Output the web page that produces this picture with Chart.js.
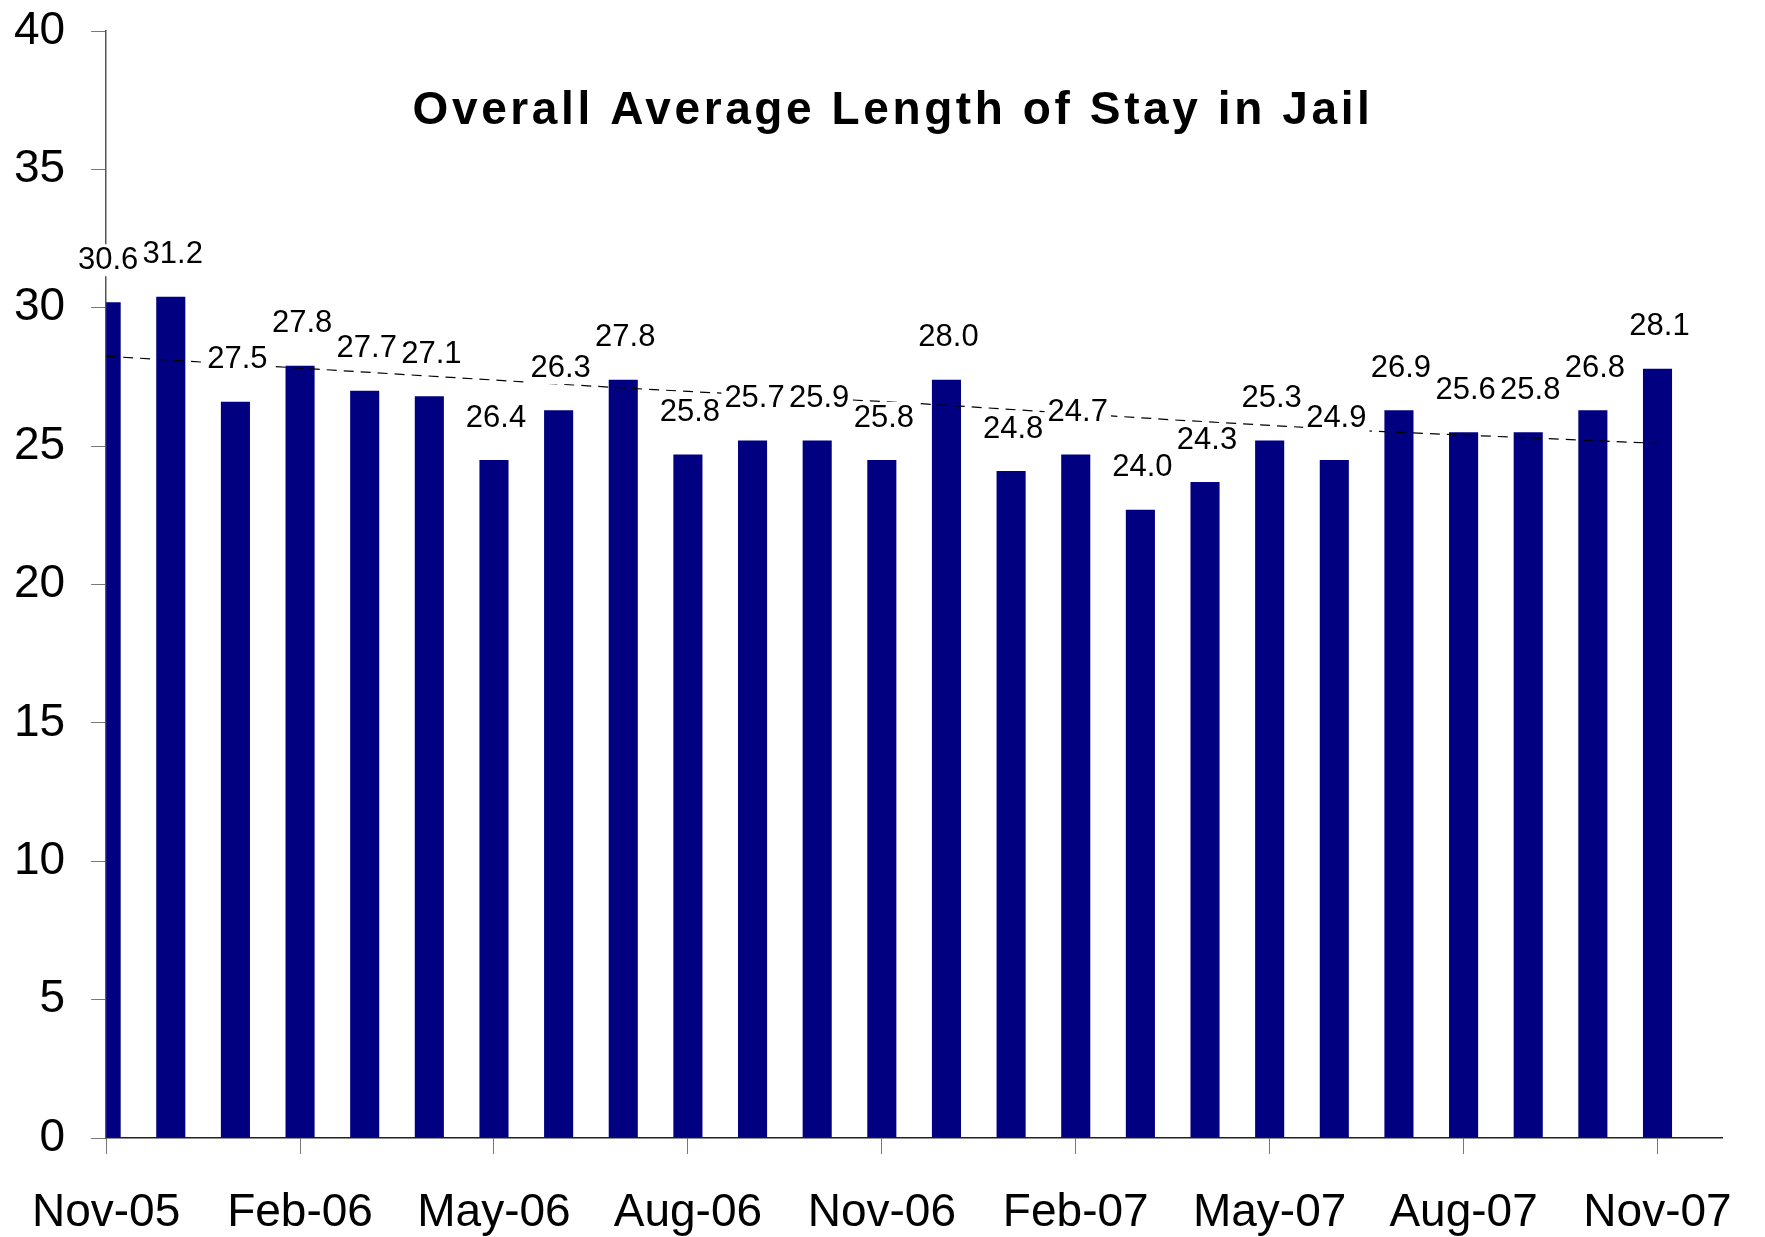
<!DOCTYPE html>
<html>
<head>
<meta charset="utf-8">
<title>Overall Average Length of Stay in Jail</title>
<script src="https://cdn.jsdelivr.net/npm/chart.js@4.4.0/dist/chart.umd.min.js"></script>
<style>
  html, body { margin: 0; padding: 0; background: #fff; }
  #wrap { width: 1765px; height: 1237px; }
</style>
</head>
<body>
<div id="wrap"><canvas id="chart" width="1765" height="1237"></canvas></div>
<script>
const months = [
    'Nov-05', 'Dec-05', 'Jan-06', 'Feb-06', 'Mar-06', 'Apr-06', 'May-06', 'Jun-06', 'Jul-06',
    'Aug-06', 'Sep-06', 'Oct-06', 'Nov-06', 'Dec-06', 'Jan-07', 'Feb-07', 'Mar-07', 'Apr-07',
    'May-07', 'Jun-07', 'Jul-07', 'Aug-07', 'Sep-07', 'Oct-07', 'Nov-07'
];
// bar heights as drawn in the picture
const barValues = [
    30.2, 30.4, 26.6, 27.9, 27.0, 26.8, 24.5, 26.3, 27.4,
    24.7, 25.2, 25.2, 24.5, 27.4, 24.1, 24.7, 22.7, 23.7,
    25.2, 24.5, 26.3, 25.5, 25.5, 26.3, 27.8
];
// numbers printed above the bars
const labelValues = [
    30.6, 31.2, 27.5, 27.8, 27.7, 27.1, 26.4, 26.3, 27.8,
    25.8, 25.7, 25.9, 25.8, 28.0, 24.8, 24.7, 24.0, 24.3,
    25.3, 24.9, 26.9, 25.6, 25.8, 26.8, 28.1
];
// dashed trend line, read at a few month positions
const trendMonths = [0, 8, 12.5, 16.5, 19.5, 24];
const trendValues = [28.25, 27.1, 26.55, 25.95, 25.55, 25.1];
const yTicks = [0, 5, 10, 15, 20, 25, 30, 35, 40];

const font = '"Liberation Sans", Arial, sans-serif';

const barLabels = {
    id: 'barLabels',
    afterDatasetsDraw(chart) {
        const meta = chart.getDatasetMeta(1);
        const ctx = chart.ctx;
        ctx.save();
        ctx.font = '31px ' + font;
        ctx.textAlign = 'center';
        ctx.textBaseline = 'middle';
        meta.data.forEach((bar, i) => {
            const text = labelValues[i].toFixed(1);
            const w = ctx.measureText(text).width;
            const cx = bar.x + 2;
            const cy = bar.y - 42;
            ctx.fillStyle = '#fff';
            ctx.fillRect(cx - w / 2 - 3, cy - 16, w + 6, 32);
            ctx.fillStyle = '#000';
            ctx.fillText(text, cx, cy);
        });
        ctx.restore();
    }
};

const spacedTitle = {
    id: 'spacedTitle',
    afterDraw(chart) {
        const ctx = chart.ctx;
        ctx.save();
        ctx.font = 'bold 46px ' + font;
        ctx.letterSpacing = '3.6px';
        ctx.fillStyle = '#000';
        ctx.textAlign = 'center';
        ctx.textBaseline = 'alphabetic';
        ctx.fillText('Overall Average Length of Stay in Jail', 893, 124);
        ctx.restore();
    }
};

function init() {
    new Chart(document.getElementById('chart'), {
        type: 'bar',
        data: {
            datasets: [
                {
                    type: 'line',
                    data: trendMonths.map((m, i) => ({ x: m, y: trendValues[i] })),
                    borderColor: '#000',
                    borderWidth: 1.2,
                    borderDash: [10, 7],
                    pointRadius: 0,
                    tension: 0,
                    order: 0
                },
                {
                    data: barValues.map((v, i) => ({ x: i, y: v })),
                    backgroundColor: '#000080',
                    barPercentage: 0.45,
                    categoryPercentage: 1,
                    clip: 0,
                    order: 1
                }
            ]
        },
        options: {
            responsive: false,
            animation: false,
            layout: { padding: { left: 0, top: 31, right: 38, bottom: 0 } },
            plugins: { legend: { display: false }, tooltip: { enabled: false }, title: { display: false } },
            scales: {
                x: {
                    type: 'linear',
                    min: 0,
                    max: 25,
                    offset: false,
                    afterFit: s => { s.height = 99; },
                    grid: { drawOnChartArea: false, drawTicks: true, tickLength: 16, color: '#777', offset: false },
                    border: { display: true, color: '#222', width: 1.5 },
                    ticks: {
                        stepSize: 3,
                        includeBounds: false,
                        autoSkip: false,
                        maxRotation: 0,
                        padding: 32,
                        color: '#000',
                        font: { family: font, size: 46 },
                        callback: v => months[v] || ''
                    }
                },
                y: {
                    min: 0,
                    max: 40,
                    afterFit: s => { s.width = 102; s.paddingTop = 0; s.paddingBottom = 0; },
                    afterBuildTicks: s => { s.ticks = yTicks.map(v => ({ value: v })); },
                    grid: { drawOnChartArea: false, drawTicks: true, tickLength: 15, color: '#777' },
                    border: { display: true, color: '#555', width: 1.5 },
                    ticks: {
                        padding: 26,
                        color: '#000',
                        font: { family: font, size: 46 }
                    }
                }
            }
        },
        plugins: [barLabels, spacedTitle]
    });
}

window.addEventListener('DOMContentLoaded', init);
</script>
</body>
</html>
